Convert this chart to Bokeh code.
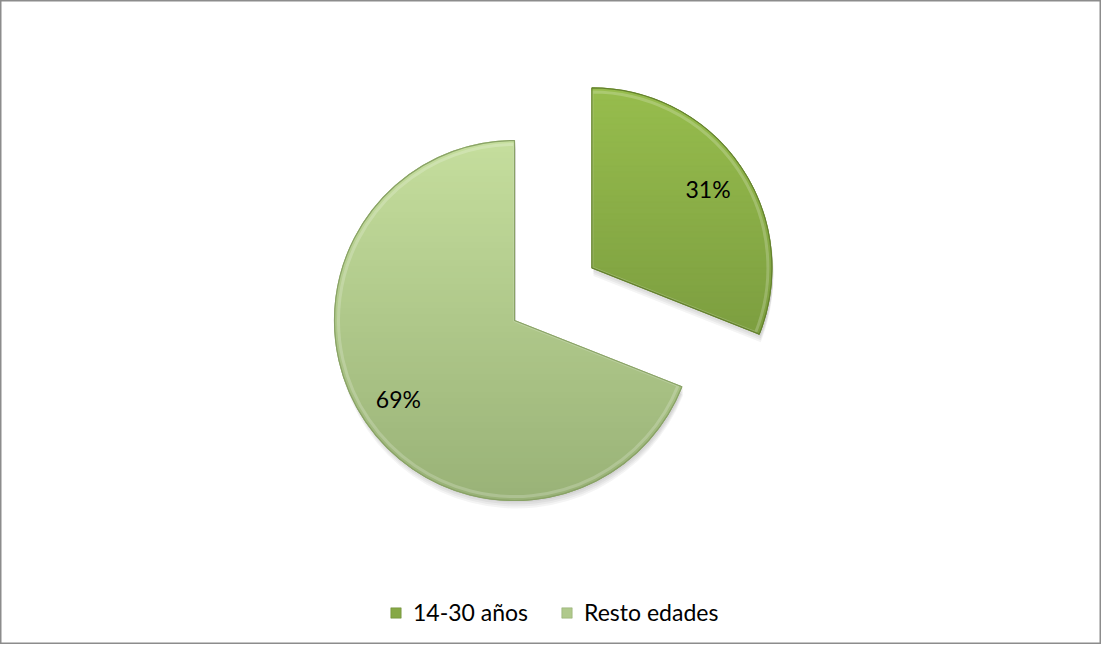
import numpy as np
from bokeh.plotting import figure
from bokeh.models import Range1d, Legend, LegendItem
from bokeh.embed import file_html
from bokeh.resources import INLINE
from bokeh.core.properties import value

# ---- data ----
categories = ["14-30 años", "Resto edades"]
shares = [0.31, 0.69]
labels = ["31%", "69%"]

# ---- styles ----
explode = [0.52, 0.0]
top_colors = ["#97BD4D", "#C5DE9D"]
bottom_colors = ["#70903A", "#99B277"]
mid_colors = ["#86A846", "#B0C98C"]
edge_colors = ["#64812E", "#89A266"]
FONT = "Lato"

W, H = 1101, 644
PX = 180.0           # pixels per pie radius
cx_px, cy_px = 514, 320

p = figure(width=W, height=H, output_backend="svg", toolbar_location=None,
           x_range=Range1d(-cx_px / PX, (W - cx_px) / PX),
           y_range=Range1d(-(H - cy_px) / PX, cy_px / PX),
           min_border=0)
p.axis.visible = False
p.grid.visible = False
p.outline_line_color = "#8c8c8c"
p.outline_line_width = 2
p.background_fill_color = "white"
p.border_fill_color = "white"


def hex2rgb(h):
    h = h.lstrip("#")
    return np.array([int(h[i:i + 2], 16) for i in (0, 2, 4)], dtype=float)


def rgb2hex(c):
    return "#%02x%02x%02x" % tuple(int(round(v)) for v in c)


def clip(poly, yv, keep_above):
    out = []
    n = len(poly)
    for i in range(n):
        P = poly[i - 1]
        Q = poly[i]
        inP = P[1] >= yv if keep_above else P[1] <= yv
        inQ = Q[1] >= yv if keep_above else Q[1] <= yv
        if inQ:
            if not inP:
                t = (yv - P[1]) / (Q[1] - P[1])
                out.append((P[0] + t * (Q[0] - P[0]), yv))
            out.append(Q)
        elif inP:
            t = (yv - P[1]) / (Q[1] - P[1])
            out.append((P[0] + t * (Q[0] - P[0]), yv))
    return out


# slice geometry from data (clockwise from 12 o'clock)
cum = np.concatenate([[0], np.cumsum(shares)[:-1]])
starts = np.pi / 2 - 2 * np.pi * cum
ends = np.pi / 2 - 2 * np.pi * (cum + np.array(shares))
mids = (starts + ends) / 2
xs = np.array(explode) * np.cos(mids)
ys = np.array(explode) * np.sin(mids)

# soft shadow
for off in [2, 4, 6, 8]:
    p.wedge(x=xs + 1.5 / PX, y=ys - off / PX, radius=1.0, start_angle=starts, end_angle=ends,
            direction="clock", fill_color="black", fill_alpha=0.045, line_color=None)

flat = []
for i in range(len(shares)):
    r = p.wedge(x=xs[i], y=ys[i], radius=1.0, start_angle=starts[i], end_angle=ends[i],
                direction="clock", fill_color=mid_colors[i], line_color=edge_colors[i], line_width=0.5)
    flat.append(r)

# vertical gradient over each slice
NB = 60
for i in range(len(shares)):
    ang = np.linspace(starts[i], ends[i], 200)
    poly = [(xs[i], ys[i])] + [(xs[i] + np.cos(a), ys[i] + np.sin(a)) for a in ang]
    ctop, cbot = hex2rgb(top_colors[i]), hex2rgb(bottom_colors[i])
    pxs, pys, cols = [], [], []
    edges = np.linspace(ys[i] + 1.0, ys[i] - 1.0, NB + 1)
    for b in range(NB):
        yhi, ylo = edges[b], edges[b + 1]
        pp = clip(clip(poly, yhi, False), ylo, True)
        if len(pp) < 3:
            continue
        t = (b + 0.5) / NB
        c = rgb2hex(ctop * (1 - t) + cbot * t)
        pxs.append([q[0] for q in pp])
        pys.append([q[1] for q in pp])
        cols.append(c)
    p.patches(xs=pxs, ys=pys, fill_color=cols, line_color=cols, line_width=1)

# bevel-like lighter inner edge and darker outline
for i in range(len(shares)):
    p.wedge(x=xs[i], y=ys[i], radius=1.0 - 4 / PX, start_angle=starts[i], end_angle=ends[i],
            direction="clock", fill_alpha=0, line_color="white", line_alpha=0.2, line_width=3)
    p.wedge(x=xs[i], y=ys[i], radius=1.0, start_angle=starts[i], end_angle=ends[i],
            direction="clock", fill_alpha=0, line_color=edge_colors[i], line_width=1.2)

# percentage labels
lab_r = 0.78
p.text(x=xs + lab_r * np.cos(mids), y=ys + lab_r * np.sin(mids), text=labels,
       text_font=value(FONT), text_font_size="23px", text_color="black",
       text_align="center", text_baseline="middle")

legend = Legend(items=[LegendItem(label=categories[i], renderers=[flat[i]]) for i in range(len(shares))],
                orientation="horizontal", location=(389, 18),
                glyph_width=13, glyph_height=13, label_standoff=11, spacing=32,
                label_text_font=FONT, label_text_font_size="23px", label_text_color="black",
                padding=0, margin=0, border_line_alpha=0, background_fill_alpha=0)
p.add_layout(legend)

open("out.html", "w").write(file_html(p, INLINE))
